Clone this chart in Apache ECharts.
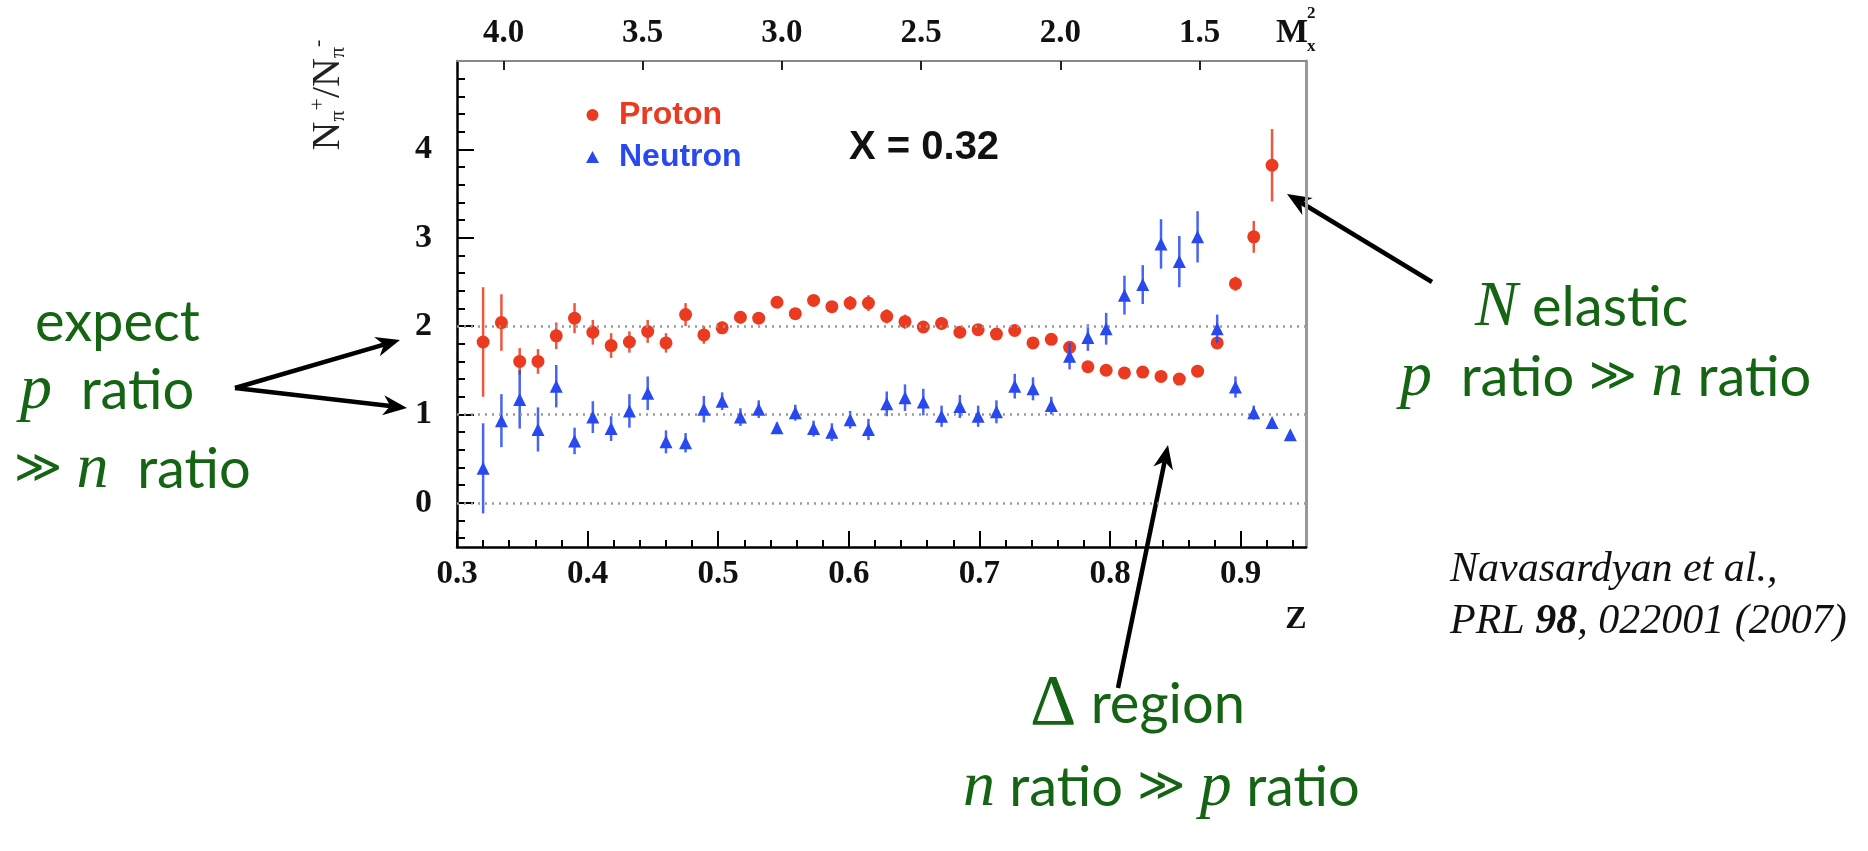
<!DOCTYPE html>
<html>
<head>
<meta charset="utf-8">
<title>N pi+ / N pi- ratio vs z</title>
<script src="https://cdn.jsdelivr.net/npm/echarts@6/dist/echarts.min.js"></script>
<style>
  html, body { margin: 0; padding: 0; background: #ffffff; }
  #chart { width: 1868px; height: 851px; }
</style>
</head>
<body>
<div id="chart"></div>
<script>
// z bins (bottom axis)
const zValues = [
  0.320, 0.334, 0.348, 0.362, 0.376, 0.390, 0.404, 0.418, 0.432, 0.446,
  0.460, 0.475, 0.489, 0.503, 0.517, 0.531, 0.545, 0.559, 0.573, 0.587,
  0.601, 0.615, 0.629, 0.643, 0.657, 0.671, 0.685, 0.699, 0.713, 0.727,
  0.741, 0.755, 0.769, 0.783, 0.797, 0.811, 0.825, 0.839, 0.853, 0.867,
  0.882, 0.896, 0.910, 0.924, 0.938
]

// proton target (44 bins)
const protonRatio = [
  1.82, 2.04, 1.60, 1.60, 1.89, 2.09, 1.93, 1.78, 1.82, 1.94,
  1.81, 2.13, 1.90, 1.98, 2.10, 2.09, 2.27, 2.14, 2.29, 2.22,
  2.26, 2.26, 2.11, 2.05, 1.99, 2.03, 1.93, 1.96, 1.91, 1.95,
  1.81, 1.85, 1.76, 1.54, 1.50, 1.47, 1.48, 1.43, 1.40, 1.49,
  1.81, 2.48, 3.01, 3.82
]
const protonError = [
  0.62, 0.32, 0.15, 0.14, 0.15, 0.17, 0.14, 0.14, 0.12, 0.13,
  0.11, 0.13, 0.10, 0.07, 0.07, 0.06, 0.06, 0.06, 0.06, 0.06,
  0.08, 0.09, 0.08, 0.08, 0.06, 0.07, 0.06, 0.06, 0.06, 0.06,
  0.06, 0.06, 0.07, 0.05, 0.05, 0.05, 0.05, 0.05, 0.05, 0.06,
  0.06, 0.08, 0.18, 0.41
]

// neutron target (45 bins)
const neutronRatio = [
  0.39, 0.93, 1.17, 0.83, 1.32, 0.70, 0.97, 0.84, 1.04, 1.24,
  0.69, 0.68, 1.06, 1.15, 0.97, 1.06, 0.85, 1.02, 0.84, 0.80,
  0.94, 0.83, 1.12, 1.19, 1.14, 0.98, 1.09, 0.98, 1.03, 1.32,
  1.29, 1.10, 1.66, 1.87, 1.97, 2.35, 2.47, 2.93, 2.73, 3.01,
  1.97, 1.31, 1.02, 0.91, 0.77
]
const neutronError = [
  0.51, 0.30, 0.33, 0.25, 0.24, 0.15, 0.18, 0.14, 0.19, 0.19,
  0.13, 0.11, 0.15, 0.10, 0.10, 0.10, 0.06, 0.09, 0.09, 0.10,
  0.10, 0.12, 0.14, 0.15, 0.15, 0.12, 0.13, 0.12, 0.13, 0.14,
  0.13, 0.10, 0.15, 0.15, 0.18, 0.22, 0.22, 0.28, 0.29, 0.29,
  0.16, 0.12, 0.08, 0.04, 0.03
]

// axis ticks
const zTickValues = [0.3, 0.4, 0.5, 0.6, 0.7, 0.8, 0.9]
const zMinorTicks = [
  0.32, 0.34, 0.36, 0.38, 0.42, 0.44, 0.46, 0.48, 0.52, 0.54, 0.56, 0.58,
  0.62, 0.64, 0.66, 0.68, 0.72, 0.74, 0.76, 0.78, 0.82, 0.84, 0.86, 0.88,
  0.92, 0.94
]
const yTickValues = [0, 1, 2, 3, 4]
const yMinorTicks = [
  -0.4, -0.2, 0.2, 0.4, 0.6, 0.8, 1.2, 1.4, 1.6, 1.8, 2.2, 2.4, 2.6, 2.8,
  3.2, 3.4, 3.6, 3.8, 4.2, 4.4, 4.6, 4.8
]
const m2TickValues = [4.0, 3.5, 3.0, 2.5, 2.0, 1.5]
const refLines = [0, 1, 2]

const RED = '#ea3a1f'
const BLUE = '#2849f0'
const GREEN = '#146414'
const SERIF = '"Liberation Serif", "DejaVu Serif", serif'
const SANS = '"Liberation Sans", Arial, sans-serif'
const HUMAN = 'Lato, "Open Sans", sans-serif'

const Z_MIN = 0.3
const Z_MAX = 0.95
const Y_MIN = -0.5
const Y_MAX = 5
// missing mass squared at the two ends of the z range
const M2_AT_ZMIN = 4.167
const M2_AT_ZMAX = 1.118

const protonPoints = protonRatio.map((v, i) => [zValues[i], v])
const neutronPoints = neutronRatio.map((v, i) => [zValues[i], v])
const protonBars = protonRatio.map((v, i) => [zValues[i], v - protonError[i], v + protonError[i]])
const neutronBars = neutronRatio.map((v, i) => [zValues[i], v - neutronError[i], v + neutronError[i]])

const errorBarRenderer = (color) => (params, api) => {
  const lo = api.coord([api.value(0), api.value(1)])
  const hi = api.coord([api.value(0), api.value(2)])
  return {
    type: 'line',
    shape: { x1: lo[0], y1: lo[1], x2: hi[0], y2: hi[1] },
    style: { stroke: color, lineWidth: 2.5, opacity: 0.85 }
  }
}

// annotation arrow: shaft + notched head
const arrow = (x1, y1, x2, y2) => {
  const a = Math.atan2(y2 - y1, x2 - x1)
  const c = Math.cos(a), s = Math.sin(a)
  const L = 24, W = 10
  const bx = x2 - L * c, by = y2 - L * s
  const nx = x2 - L * 0.7 * c, ny = y2 - L * 0.7 * s
  return [
    {
      type: 'line',
      shape: { x1: x1, y1: y1, x2: nx, y2: ny },
      style: { stroke: '#000', lineWidth: 4.5 }
    },
    {
      type: 'polygon',
      shape: { points: [[x2, y2], [bx - W * s, by + W * c], [nx, ny], [bx + W * s, by - W * c]] },
      style: { fill: '#000' }
    }
  ]
}

const greenRich = {
  t: { fontFamily: HUMAN, fontSize: 56, fill: GREEN, lineHeight: 74 },
  i: { fontFamily: SERIF, fontStyle: 'italic', fontSize: 64, fill: GREEN, lineHeight: 74 },
  g: { fontFamily: '"DejaVu Sans", sans-serif', fontSize: 46, fill: GREEN, lineHeight: 74 },
  d: { fontFamily: SERIF, fontSize: 72, fill: GREEN, lineHeight: 74 }
}

const greenText = (x, y, text) => ({
  type: 'text',
  x: x,
  y: y,
  style: {
    text: text,
    rich: greenRich,
    fill: GREEN,
    font: '56px Lato',
    align: 'left',
    verticalAlign: 'middle'
  }
})

const chart = echarts.init(document.getElementById('chart'))

const option = {
  backgroundColor: '#ffffff',
  animation: false,
  grid: { left: 457, right: 562, top: 61, bottom: 304 },
  legend: {
    orient: 'vertical',
    left: 581,
    top: 94,
    itemWidth: 13,
    itemHeight: 12,
    itemGap: 10,
    textStyle: { fontFamily: SANS, fontWeight: 'bold', fontSize: 32, lineHeight: 32, padding: [0, 0, 0, 15] },
    data: [
      { name: 'Proton', textStyle: { color: RED } },
      { name: 'Neutron', textStyle: { color: BLUE } }
    ]
  },
  xAxis: [
    {
      type: 'value',
      position: 'bottom',
      min: Z_MIN,
      max: Z_MAX,
      axisLine: { onZero: false, lineStyle: { color: '#000', width: 2.5 } },
      axisTick: { inside: true, length: 16, customValues: zTickValues, lineStyle: { color: '#000', width: 2 } },
      axisLabel: {
        customValues: zTickValues,
        formatter: v => v.toFixed(1),
        fontFamily: SERIF, fontWeight: 'bold', fontSize: 33, color: '#111', margin: 11
      },
      splitLine: { show: false }
    },
    {
      type: 'value',
      position: 'bottom',
      min: Z_MIN,
      max: Z_MAX,
      axisLine: { show: false, onZero: false },
      axisTick: { inside: true, length: 7, customValues: zMinorTicks, lineStyle: { color: '#000', width: 2 } },
      axisLabel: { show: false },
      splitLine: { show: false }
    },
    {
      type: 'value',
      position: 'top',
      min: M2_AT_ZMAX,
      max: M2_AT_ZMIN,
      inverse: true,
      axisLine: { onZero: false, lineStyle: { color: '#888', width: 2 } },
      axisTick: { inside: true, length: 9, customValues: m2TickValues, lineStyle: { color: '#222', width: 2 } },
      axisLabel: {
        customValues: m2TickValues,
        formatter: v => v.toFixed(1),
        fontFamily: SERIF, fontWeight: 'bold', fontSize: 33, color: '#111', margin: 11
      },
      splitLine: { show: false }
    }
  ],
  yAxis: [
    {
      type: 'value',
      position: 'left',
      min: Y_MIN,
      max: Y_MAX,
      axisLine: { onZero: false, lineStyle: { color: '#000', width: 2.5 } },
      axisTick: { inside: true, length: 17, customValues: yTickValues, lineStyle: { color: '#000', width: 2 } },
      axisLabel: {
        customValues: yTickValues,
        formatter: v => String(v),
        fontFamily: SERIF, fontWeight: 'bold', fontSize: 34, color: '#111', margin: 25
      },
      splitLine: { show: false }
    },
    {
      type: 'value',
      position: 'left',
      min: Y_MIN,
      max: Y_MAX,
      axisLine: { show: false, onZero: false },
      axisTick: { inside: true, length: 8, customValues: yMinorTicks, lineStyle: { color: '#000', width: 2 } },
      axisLabel: { show: false },
      splitLine: { show: false }
    },
    {
      type: 'value',
      position: 'right',
      min: Y_MIN,
      max: Y_MAX,
      axisLine: { onZero: false, lineStyle: { color: '#999', width: 3 } },
      axisTick: { show: false },
      axisLabel: { show: false },
      splitLine: { show: false }
    }
  ],
  series: [
    {
      name: 'protonErr',
      type: 'custom',
      xAxisIndex: 0,
      yAxisIndex: 0,
      z: 2,
      renderItem: errorBarRenderer(RED),
      data: protonBars,
      markLine: {
        silent: true,
        symbol: 'none',
        label: { show: false },
        lineStyle: { color: '#999', width: 2.5, type: [2, 5] },
        data: refLines.map(v => ({ yAxis: v }))
      }
    },
    {
      name: 'Proton',
      type: 'scatter',
      xAxisIndex: 0,
      yAxisIndex: 0,
      z: 3,
      symbol: 'circle',
      symbolSize: 13,
      itemStyle: { color: RED, opacity: 1 },
      data: protonPoints
    },
    {
      name: 'neutronErr',
      type: 'custom',
      xAxisIndex: 0,
      yAxisIndex: 0,
      z: 4,
      renderItem: errorBarRenderer(BLUE),
      data: neutronBars
    },
    {
      name: 'Neutron',
      type: 'scatter',
      xAxisIndex: 0,
      yAxisIndex: 0,
      z: 5,
      symbol: 'triangle',
      symbolSize: 13,
      itemStyle: { color: BLUE, opacity: 1 },
      data: neutronPoints
    }
  ],
  graphic: [
    // y axis title
    {
      type: 'text',
      x: 328,
      y: 95,
      rotation: Math.PI / 2,
      style: {
        text: '{n|N}{s|π}{u|+}{n|/N}{s|π}{u|-}',
        align: 'center',
        verticalAlign: 'middle',
        fill: '#222',
        rich: {
          n: { fontFamily: SERIF, fontSize: 40, fill: '#222', lineHeight: 42 },
          s: { fontFamily: SERIF, fontSize: 22, fill: '#222', lineHeight: 20, verticalAlign: 'bottom' },
          u: { fontFamily: SERIF, fontSize: 22, fill: '#222', lineHeight: 20, verticalAlign: 'top' }
        }
      }
    },
    // M_x^2 on top axis
    { type: 'text', x: 1276, y: 33, style: { text: 'M', font: 'bold 34px ' + SERIF, fill: '#111', align: 'left', verticalAlign: 'middle' } },
    { type: 'text', x: 1307, y: 14, style: { text: '2', font: 'bold 17px ' + SERIF, fill: '#111', align: 'left', verticalAlign: 'middle' } },
    { type: 'text', x: 1307, y: 47, style: { text: 'x', font: 'bold 17px ' + SERIF, fill: '#111', align: 'left', verticalAlign: 'middle' } },
    // z axis title
    { type: 'text', x: 1296, y: 620, style: { text: 'Z', font: 'bold 32px ' + SERIF, fill: '#111', align: 'center', verticalAlign: 'middle' } },
    // x value in plot
    { type: 'text', x: 849, y: 148, style: { text: 'X = 0.32', font: 'bold 40px ' + SANS, fill: '#111', align: 'left', verticalAlign: 'middle' } },
    // left annotation
    greenText(35, 323, '{t|expect}'),
    greenText(20, 391, '{i|p}{t|  ratio}'),
    greenText(14, 470, '{g|≫}{t| }{i|n}{t|  ratio}'),
    ...arrow(235, 388, 400, 340),
    ...arrow(235, 388, 407, 408),
    // right annotation
    greenText(1475, 308, '{i|N}{t| elastic}'),
    greenText(1400, 378, '{i|p}{t|  ratio }{g|≫}{t| }{i|n}{t| ratio}'),
    ...arrow(1432, 282, 1287, 194),
    // bottom annotation
    greenText(1030, 705, '{d|Δ}{t| region}'),
    greenText(963, 788, '{i|n}{t| ratio }{g|≫}{t| }{i|p}{t| ratio}'),
    ...arrow(1118, 688, 1168, 445),
    // citation
    {
      type: 'text',
      x: 1450,
      y: 570,
      style: { text: 'Navasardyan et al.,', font: 'italic 42px ' + SERIF, fill: '#111', align: 'left', verticalAlign: 'middle' }
    },
    {
      type: 'text',
      x: 1450,
      y: 622,
      style: {
        text: '{n|PRL }{b|98}{n|, 022001 (2007)}',
        align: 'left',
        verticalAlign: 'middle',
        fill: '#111',
        rich: {
          n: { fontFamily: SERIF, fontStyle: 'italic', fontSize: 42, fill: '#111' },
          b: { fontFamily: SERIF, fontStyle: 'italic', fontWeight: 'bold', fontSize: 42, fill: '#111' }
        }
      }
    }
  ]
}

chart.setOption(option)
window.addEventListener('resize', () => chart.resize())
</script>
</body>
</html>
